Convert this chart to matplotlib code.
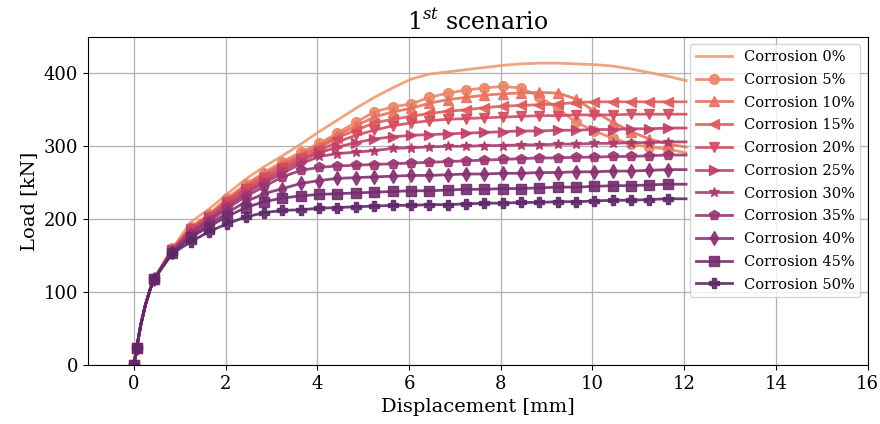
import matplotlib
matplotlib.use("Agg")
import matplotlib.pyplot as plt
import seaborn as sns

plt.rcParams['font.family'] = ['DejaVu Serif']
plt.rcParams['mathtext.fontset'] = 'dejavuserif'

# displacement [mm], shared by all curves
disp = [0.0, 0.06, 0.15, 0.25, 0.35, 0.44, 0.84, 1.24, 1.64, 2.04, 2.44, 2.84, 3.24, 3.64,
        4.04, 4.44, 4.84, 5.24, 5.64, 6.04, 6.44, 6.84, 7.24, 7.64, 8.04, 8.44, 8.84, 9.24,
        9.64, 10.04, 10.44, 10.84, 11.24, 11.64, 12.04]
# points of the curves that carry a marker
marked = [0, 1] + list(range(5, 34))

# load [kN] for each corrosion level
c0 = [0, 23, 55, 82, 103, 118, 160, 196, 214, 235, 255, 272, 287, 303, 320, 336, 352, 367,
      380, 392, 399, 402, 405, 408, 411, 413, 414, 414, 413, 412, 410, 406, 401, 396, 390]
c5 = [0, 23, 55, 82, 103, 118, 160, 189, 207, 229, 248, 264, 279, 292, 304, 318, 333, 347,
      354, 358, 367, 373, 377, 380, 382, 380, 368, 352, 333, 321, 311, 303, 299, 296, 291]
c10 = [0, 23, 55, 82, 103, 118, 159, 188, 206, 227, 246, 262, 276, 289, 301, 315, 328, 340,
       347, 352, 359, 364, 367, 370, 372, 373, 374, 373, 365, 348, 333, 320, 310, 303, 299]
c15 = [0, 23, 55, 82, 103, 118, 159, 187, 205, 226, 244, 259, 273, 286, 298, 312, 322, 332,
       337, 341, 345, 348, 350, 353, 355, 356, 357, 358, 360, 361, 361, 361, 361, 361, 361]
c20 = [0, 23, 55, 82, 103, 118, 158, 186, 203, 224, 241, 256, 270, 283, 294, 306, 315, 322,
       328, 332, 335, 337, 338, 339, 340, 341, 342, 342, 343, 343, 343, 344, 344, 344, 344]
c25 = [0, 23, 55, 82, 103, 118, 158, 184, 201, 221, 238, 253, 267, 280, 291, 299, 305, 310,
       313, 315, 316, 317, 318, 319, 320, 321, 321, 322, 322, 323, 323, 324, 324, 325, 325]
c30 = [0, 23, 55, 82, 103, 118, 157, 182, 199, 218, 235, 250, 263, 276, 286, 290, 292, 294,
       297, 298, 299, 300, 300, 301, 301, 302, 302, 303, 303, 304, 304, 305, 305, 306, 306]
c35 = [0, 23, 55, 82, 103, 118, 156, 180, 197, 215, 231, 245, 258, 267, 271, 273, 274, 275,
       276, 277, 278, 279, 280, 281, 282, 283, 284, 284, 285, 285, 286, 286, 287, 288, 288]
c40 = [0, 23, 55, 82, 103, 118, 155, 177, 193, 209, 224, 235, 242, 249, 253, 256, 257, 258,
       259, 260, 260, 261, 262, 262, 263, 263, 264, 264, 265, 265, 266, 266, 267, 268, 268]
c45 = [0, 23, 55, 82, 103, 118, 154, 175, 190, 204, 216, 224, 229, 232, 234, 235, 236, 237,
       238, 239, 239, 240, 241, 241, 242, 242, 243, 244, 244, 245, 246, 246, 247, 248, 248]
c50 = [0, 23, 55, 82, 103, 118, 153, 169, 183, 194, 203, 209, 212, 213, 215, 216, 217, 218,
       219, 219, 220, 220, 221, 222, 222, 223, 223, 224, 224, 225, 226, 226, 227, 228, 228]

levels = [0, 5, 10, 15, 20, 25, 30, 35, 40, 45, 50]
curves = [c0, c5, c10, c15, c20, c25, c30, c35, c40, c45, c50]
markers = [None, 'o', '^', '<', 'v', '>', '*', 'p', 'd', 's', 'P']

colors = sns.color_palette("flare", len(levels))

fig = plt.figure(figsize=(8.8, 4.24), dpi=100)
ax = fig.add_axes([0.1, 0.139, 0.886, 0.774])

for lev, y, m, col in zip(levels, curves, markers, colors):
    ax.plot(disp, y, color=col, marker=m, markersize=7, linewidth=2,
            markevery=marked, alpha=0.9, label=f'Corrosion {lev}%')

ax.set_xlim(-1, 16)
ax.set_ylim(0, 450)
ax.set_xticks(range(0, 17, 2))
ax.set_yticks(range(0, 401, 100))
ax.grid(True, color='#b0b0b0', linewidth=0.9)
ax.tick_params(labelsize=13)
ax.set_xlabel('Displacement [mm]', fontsize=14)
ax.set_ylabel('Load [kN]', fontsize=14)
ax.set_title('$1^{st}$ scenario', fontsize=17)
ax.legend(loc='upper right', fontsize=10.5, labelspacing=0.6, handlelength=2.5)

fig.savefig('out.png', dpi=100)
